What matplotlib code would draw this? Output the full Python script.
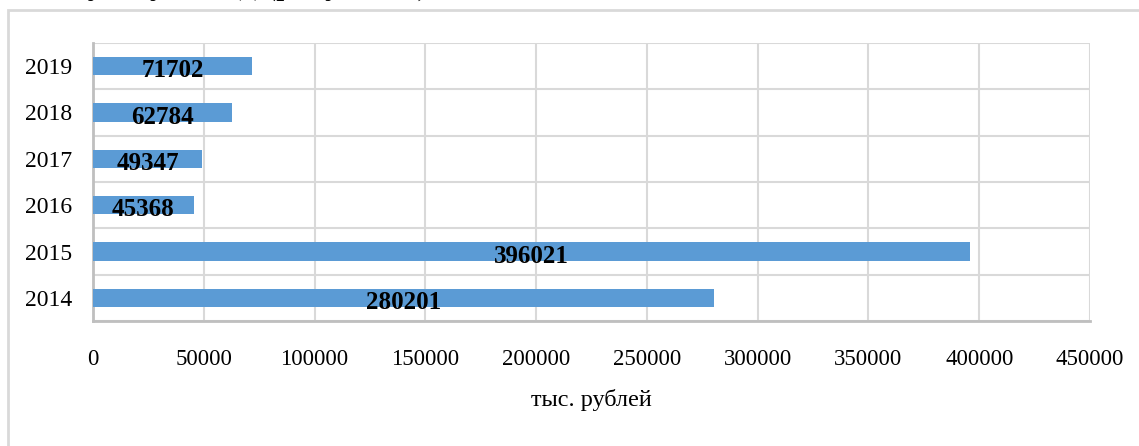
import matplotlib.pyplot as plt
from matplotlib.patches import Rectangle

years = ["2014", "2015", "2016", "2017", "2018", "2019"]
values = [280201, 396021, 45368, 49347, 62784, 71702]
xticks = [0, 50000, 100000, 150000, 200000, 250000, 300000, 350000, 400000, 450000]
xlabel = "тыс. рублей"
caption = "прибыли по учету за год (рисунок 1)."

plt.rcParams["font.family"] = ["Liberation Serif", "DejaVu Serif"]

fig = plt.figure(figsize=(11.39, 4.46), dpi=100)

# frame around the chart (runs off the right and bottom edges)
fig.patches.append(Rectangle((8 / 1139, -0.2), 1.2, 1 - 10 / 446 + 0.2,
                             transform=fig.transFigure, fill=False,
                             edgecolor="#d9d9d9", linewidth=2))
# tail of the sentence above the chart
fig.text(-90 / 1139, 1 + 6 / 446, caption, fontsize=24, va="baseline", ha="left")

ax = fig.add_axes([93 / 1139, 1 - 321 / 446, 997 / 1139, 278 / 446])
pos = range(len(years))
ax.barh(pos, values, height=0.4, color="#5b9bd5", zorder=3)

for y, v in zip(pos, values):
    ax.text(v / 2, y - 0.1, str(v), ha="center", va="center",
            fontsize=18, fontweight="bold", color="black", zorder=4)

ax.set_xlim(0, 450000)
ax.set_ylim(-0.5, len(years) - 0.5)
ax.set_xticks(xticks)
ax.set_xticklabels([str(t) for t in xticks])
ax.set_yticks(list(pos))
ax.set_yticklabels(years)
ax.set_yticks([p - 0.5 for p in range(len(years) + 1)], minor=True)

ax.grid(axis="x", which="major", color="#d9d9d9", linewidth=1.5, zorder=0)
ax.grid(axis="y", which="minor", color="#d9d9d9", linewidth=1.5, zorder=0)
ax.tick_params(which="both", length=0)
ax.tick_params(axis="x", labelsize=16.5, pad=20)
ax.tick_params(axis="y", labelsize=17, pad=15)

for side in ["top", "right"]:
    ax.spines[side].set_visible(False)
for side in ["left", "bottom"]:
    ax.spines[side].set_color("#bfbfbf")
    ax.spines[side].set_linewidth(2)

ax.set_xlabel(xlabel, fontsize=17.5, labelpad=14)

fig.savefig("out.png", dpi=100)
